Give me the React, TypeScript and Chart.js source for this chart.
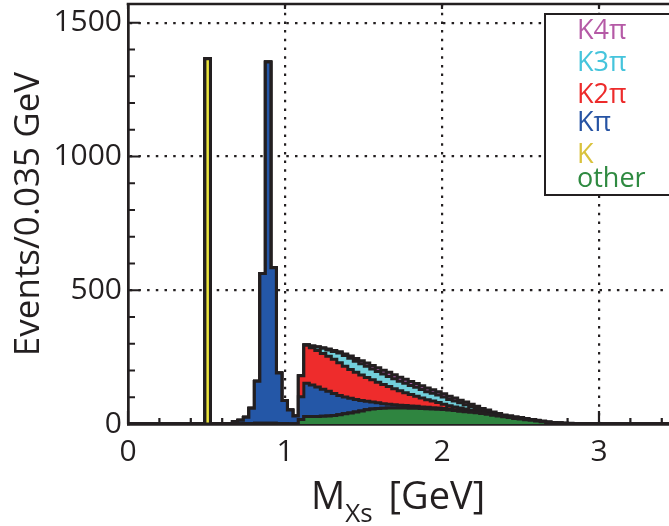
import React, { useEffect, useRef } from 'react';
import { Chart, registerables } from 'chart.js';

Chart.register(...registerables);

// ---------- data (events per 0.035 GeV bin) ----------
const BIN_WIDTH = 0.035;
const N_BINS = 100;
const X_MAX = 3.446;
const Y_MAX = 1570;

const xTicks = [0, 1, 2, 3];
const yTicks = [0, 500, 1000, 1500];
const X_MINOR_STEP = 0.2;
const Y_MINOR_STEP = 100;

const categories = ['other', 'K', 'Kπ', 'K2π', 'K3π', 'K4π'];

// first bin index of each series, then counts per bin
const otherStart = 20;
const otherCounts = [
  1, 2, 2, 3, 3, 3, 3, 2, 2, 1, 1,
  17, 28, 28, 28, 29, 30, 32, 35, 38, 41, 45, 49, 53, 56, 58, 59, 60, 60, 60, 60,
  59, 59, 58, 57, 56, 55, 54, 52, 50, 48, 46, 44, 42, 39, 36, 33, 30, 27, 24, 21,
  19, 16, 14, 11, 8, 6, 4, 3, 2, 1,
];

const kStart = 14;
const kCounts = [1365];

const kpiStart = 17;
const kpiCounts = [
  1, 2, 8, 13, 23, 57, 157, 560, 1350, 581, 189, 86, 51, 29,
  85, 124, 118, 110, 101, 92, 82, 72, 63, 55, 47, 39, 32, 26, 21, 17, 14, 12, 10,
  9, 8, 7, 6, 6, 5, 5, 4, 4, 3, 3, 3, 3, 2, 2, 2, 2, 1, 1, 1, 1, 1, 1,
];

const k2piStart = 31;
const k2piCounts = [
  78, 142, 139, 137, 134, 131, 128, 122, 115, 108, 101, 95, 89, 83, 77, 72, 66,
  60, 54, 48, 43, 38, 33, 28, 25, 20, 16, 12, 11, 9, 7, 5, 4, 3, 2, 1, 1, 0, 1,
];

const k3piStart = 32;
const k3piCounts = [
  2, 7, 13, 19, 24, 29, 36, 40, 42, 42, 42, 42, 41, 40, 39, 38, 37, 36, 35, 34, 33,
  32, 30, 29, 28, 27, 24, 22, 19, 16, 13, 10, 7, 5, 3, 2, 1, 1, 1, 1, 1, 1, 1, 1, 1,
  1, 1, 1, 1,
];

const k4piStart = 34;
const k4piCounts = [
  1, 2, 3, 4, 5, 6, 8, 10, 11, 12, 13, 14, 14, 15, 15, 15, 15, 15, 14, 14, 14, 13,
  13, 12, 12, 11, 10, 10, 9, 8, 7, 7, 6, 5, 5, 4, 4, 3, 3, 2, 2, 2, 1, 1, 1, 1, 1,
  1, 1, 1, 1, 1,
];

// ---------- styling ----------
const INK = '#231f20';
const FONT = '"Open Sans", "DejaVu Sans", sans-serif';
const fillColors = ['#2f8540', '#ece53c', '#2457a7', '#ee2c2c', '#72d0dc', '#a45aa6'];
const legendColors: Record<string, string> = {
  'K4π': '#b55aa6',
  'K3π': '#45c4dc',
  'K2π': '#ed2b2b',
  'Kπ': '#2653a3',
  'K': '#d9c23c',
  'other': '#2f8a41',
};
const legendOrder = ['K4π', 'K3π', 'K2π', 'Kπ', 'K', 'other'];
const legendBaselines = [39, 71, 103, 131, 163, 187];

function histogram(start: number, counts: number[]) {
  const pts = [] as { x: number; y: number }[];
  for (let i = 0; i <= N_BINS; i++) pts.push({ x: i * BIN_WIDTH, y: 0 });
  counts.forEach((c, k) => {
    pts[start + k].y = c;
  });
  return pts;
}

const seriesData = [
  histogram(otherStart, otherCounts),
  histogram(kStart, kCounts),
  histogram(kpiStart, kpiCounts),
  histogram(k2piStart, k2piCounts),
  histogram(k3piStart, k3piCounts),
  histogram(k4piStart, k4piCounts),
];

const axisDecor = {
  id: 'axisDecor',
  beforeDatasetsDraw(chart: any) {
    const { ctx, chartArea: a } = chart;
    const xs = chart.scales.x;
    const ys = chart.scales.y;
    ctx.save();
    ctx.strokeStyle = INK;
    ctx.lineWidth = 2.2;
    ctx.beginPath();
    for (let k = 0; k * X_MINOR_STEP <= xs.max + 1e-9; k++) {
      const v = k * X_MINOR_STEP;
      const px = xs.getPixelForValue(v);
      const major = Math.abs(v - Math.round(v)) < 1e-6;
      ctx.moveTo(px, a.bottom);
      ctx.lineTo(px, a.bottom - (major ? 13 : 6));
      if (major) {
        ctx.moveTo(px, a.top);
        ctx.lineTo(px, a.top + 5);
      }
    }
    for (let k = 0; k * Y_MINOR_STEP <= ys.max + 1e-9; k++) {
      const v = k * Y_MINOR_STEP;
      const py = ys.getPixelForValue(v);
      const major = v % 500 === 0;
      ctx.moveTo(a.left, py);
      ctx.lineTo(a.left + (major ? 12 : 7), py);
    }
    ctx.stroke();
    ctx.restore();
  },
  afterDraw(chart: any) {
    const { ctx, chartArea: a } = chart;
    ctx.save();
    ctx.strokeStyle = INK;
    ctx.lineWidth = 2.6;
    ctx.beginPath();
    ctx.moveTo(a.left - 1.3, a.top);
    ctx.lineTo(a.right + 2, a.top);
    ctx.stroke();
    ctx.restore();
  },
};

export default function App() {
  const ref = useRef<HTMLCanvasElement>(null);

  useEffect(() => {
    const chart = new Chart(ref.current as HTMLCanvasElement, {
      type: 'line',
      data: {
        datasets: categories.map((name, i) => ({
          label: name,
          data: seriesData[i],
          stepped: true,
          fill: i === 0 ? 'origin' : '-1',
          backgroundColor: fillColors[i],
          borderColor: INK,
          borderWidth: 3,
          pointRadius: 0,
          pointHoverRadius: 0,
        })),
      },
      options: {
        animation: false,
        responsive: false,
        devicePixelRatio: 1,
        layout: { padding: { top: 4, left: 0, right: 0, bottom: 0 } },
        plugins: {
          legend: { display: false },
          tooltip: { enabled: false },
        },
        scales: {
          x: {
            type: 'linear',
            min: 0,
            max: X_MAX,
            afterBuildTicks: (s: any) => {
              s.ticks = xTicks.map((v) => ({ value: v }));
            },
            afterFit: (s: any) => {
              s.height = 102;
              s.paddingLeft = 0;
              s.paddingRight = 0;
            },
            grid: {
              color: (c: any) => (c.tick && c.tick.value === 0 ? 'rgba(0,0,0,0)' : INK),
              lineWidth: 2.2,
              drawTicks: false,
            },
            border: { display: true, color: INK, width: 2.7, dash: [2.5, 6.2] },
            ticks: {
              color: INK,
              font: { family: FONT, size: 30 },
              padding: 10,
              maxRotation: 0,
              autoSkip: false,
              callback: (v: any) => String(v),
            },
          },
          y: {
            type: 'linear',
            stacked: true,
            min: 0,
            max: Y_MAX,
            afterBuildTicks: (s: any) => {
              s.ticks = yTicks.map((v) => ({ value: v }));
            },
            afterFit: (s: any) => {
              s.width = 128;
              s.paddingTop = 0;
              s.paddingBottom = 0;
            },
            grid: {
              color: (c: any) => (c.tick && c.tick.value === 0 ? 'rgba(0,0,0,0)' : INK),
              lineWidth: 2.2,
              drawTicks: false,
            },
            border: { display: true, color: INK, width: 2.7, dash: [2.5, 6.2] },
            ticks: {
              color: INK,
              font: { family: FONT, size: 30 },
              padding: 6,
              autoSkip: false,
              callback: (v: any) => String(v),
            },
            title: {
              display: true,
              text: 'Events/0.035 GeV',
              color: INK,
              font: { family: FONT, size: 35 },
              padding: { top: 8, bottom: 0 },
            },
          },
        },
      },
      plugins: [axisDecor],
    } as any);
    return () => chart.destroy();
  }, []);

  return (
    <div
      style={{
        position: 'fixed',
        left: 0,
        top: 0,
        width: 669,
        height: 526,
        overflow: 'hidden',
        background: '#fff',
        fontFamily: FONT,
        color: INK,
      }}
    >
      <canvas ref={ref} width={669} height={526} style={{ display: 'block' }} />
      <div
        style={{
          position: 'absolute',
          left: 544,
          top: 13,
          width: 160,
          height: 183,
          border: `2.6px solid ${INK}`,
          background: '#fff',
          boxSizing: 'border-box',
        }}
      />
      {legendOrder.map((name, i) => (
        <div
          key={name}
          style={{
            position: 'absolute',
            left: 577,
            top: legendBaselines[i] - 24,
            fontSize: 27,
            lineHeight: '27px',
            color: legendColors[name],
            whiteSpace: 'nowrap',
          }}
        >
          {name}
        </div>
      ))}
      <div
        style={{
          position: 'absolute',
          left: 311,
          top: 475,
          fontSize: 38,
          lineHeight: '38px',
          whiteSpace: 'nowrap',
        }}
      >
        M
        <span style={{ fontSize: 26, position: 'relative', top: 13 }}>Xs</span>
        <span style={{ marginLeft: 16 }}>[GeV]</span>
      </div>
    </div>
  );
}
